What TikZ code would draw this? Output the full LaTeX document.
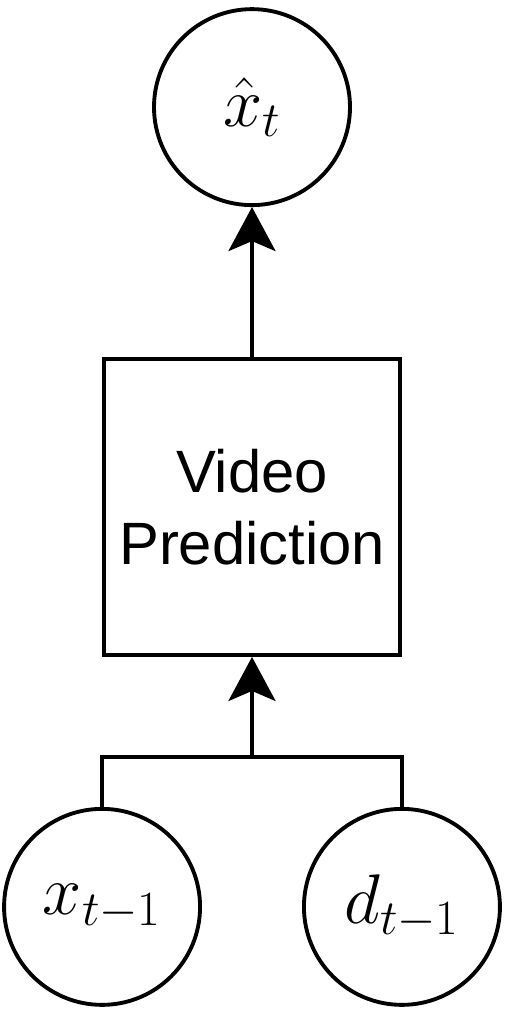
\RequirePackage{fix-cm}
\documentclass[tikz,border=0pt]{standalone}
\usepackage{amsmath}
\usepackage{fontspec}
\setmainfont{Liberation Sans}
\usetikzlibrary{arrows.meta}
\usetikzlibrary{positioning}

\tikzset{
    state/.style = {draw, circle, line width=2.2pt, minimum size=3.92cm, inner sep=0pt,
        font=\fontsize{40}{48}\selectfont},
    block/.style = {draw, rectangle, line width=2.2pt, minimum size=5.92cm, align=center,
        font=\fontsize{34}{41}\selectfont},
    flow/.style = {line width=2.2pt, -{Stealth[length=0.88cm, width=0.94cm, inset=0.2cm]}},
}

\begin{document}
\begin{tikzpicture}
    \useasboundingbox (0,0) rectangle (10.1,-20.3);
    \node[block] (vp) at (5.04,-10.14) {Video\\Prediction};
    \node[state, above=3cm of vp] (xhat) {$\hat{x}_t$};
    \node[state, below=3cm of vp.south west] (xprev) {$x_{t-1}$};
    \node[state, below=3cm of vp.south east] (dprev) {$d_{t-1}$};
    \coordinate[below=2cm of vp.south] (join);

    \draw[flow] (vp) -- (xhat);
    \draw[flow] (join) -- (vp);
    \draw[line width=2.2pt] (xprev) -- (xprev |- join) -- (dprev |- join) -- (dprev);
\end{tikzpicture}
\end{document}
